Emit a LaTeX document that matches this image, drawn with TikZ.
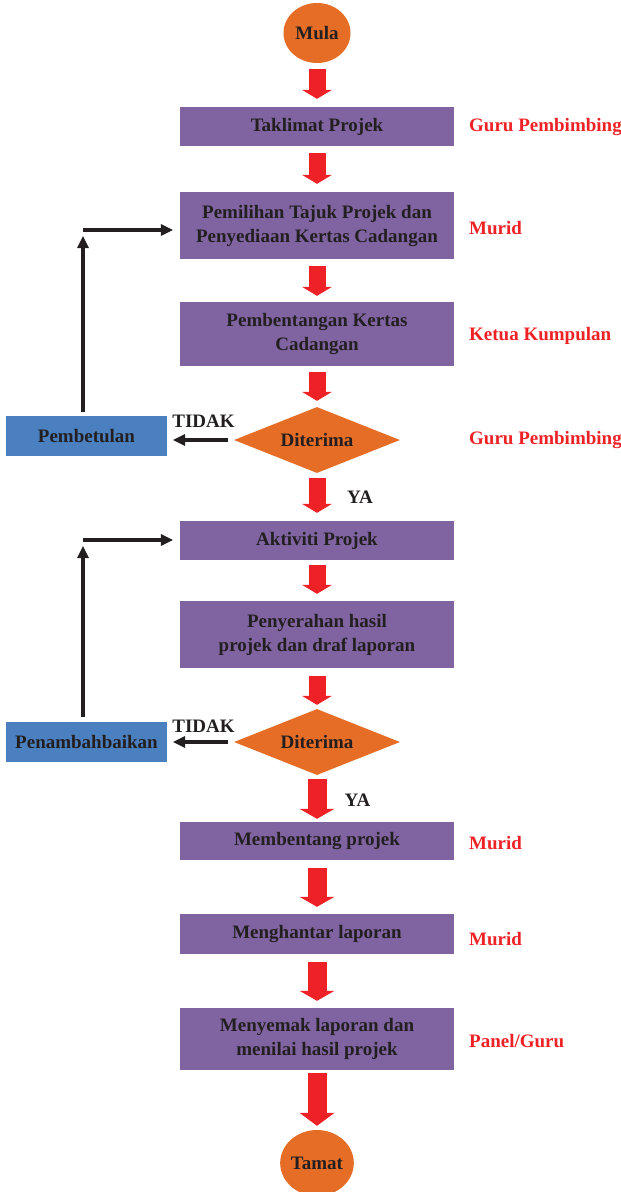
\documentclass[tikz,border=0pt]{standalone}
\usepackage{fontspec}
\setmainfont{Liberation Serif}
\usetikzlibrary{shapes.geometric,arrows.meta}
\definecolor{boxpurple}{HTML}{8064A2}
\definecolor{boxblue}{HTML}{4A80BF}
\definecolor{shapeorange}{HTML}{E56D26}
\definecolor{arrred}{HTML}{EE2226}
\definecolor{ink}{HTML}{231F20}
\begin{document}
\begin{tikzpicture}[x=1pt,y=-1pt,
  every node/.style={font=\fontsize{19}{24}\selectfont\bfseries, text=ink},
  procbox/.style={rectangle, fill=boxpurple, minimum width=274pt, inner sep=0pt, align=center},
  sidebox/.style={rectangle, fill=boxblue, minimum width=161pt, minimum height=40pt, inner sep=0pt},
  term/.style={ellipse, fill=shapeorange, inner sep=0pt},
  decide/.style={diamond, fill=shapeorange, aspect=2.5, inner sep=0pt, minimum width=166pt, minimum height=66pt},
  role/.style={anchor=west, text=arrred, inner sep=0pt},
  lbl/.style={inner sep=0pt},
  redarr/.style={draw=arrred, line width=17pt, -{Triangle[length=9pt,width=30pt,line width=0pt]}},
  bigredarr/.style={draw=arrred, line width=19pt, -{Triangle[length=10pt,width=35pt,line width=0pt]}},
  blkarr/.style={draw=ink, line width=3.5pt, -{Triangle[length=12pt,width=12pt,line width=0pt]}}
]
\useasboundingbox (0,0) rectangle (621,1192);

% main column
\node[term, minimum width=67pt, minimum height=60pt] (mula) at (317,33) {Mula};
\node[procbox, minimum height=39pt] (tak) at (317,126.5) {Taklimat Projek};
\node[procbox, minimum height=67pt] (pem) at (317,225.5) {Pemilihan Tajuk Projek dan\\Penyediaan Kertas Cadangan};
\node[procbox, minimum height=64pt] (pbt) at (317,334) {Pembentangan Kertas\\Cadangan};
\node[decide] (d1) at (317,440) {Diterima};
\node[procbox, minimum height=39pt] (akt) at (317,540.5) {Aktiviti Projek};
\node[procbox, minimum height=67pt] (pny) at (317,634.5) {Penyerahan hasil\\projek dan draf laporan};
\node[decide] (d2) at (317,742) {Diterima};
\node[procbox, minimum height=38pt] (mbt) at (317,841) {Membentang projek};
\node[procbox, minimum height=40pt] (mgh) at (317,934) {Menghantar laporan};
\node[procbox, minimum height=62pt] (mny) at (317,1039) {Menyemak laporan dan\\menilai hasil projek};
\node[term, minimum width=72pt, minimum height=66pt] (tamat) at (317,1163) {Tamat};

% side boxes
\node[sidebox] (betul) at (86.5,436) {Pembetulan};
\node[sidebox] (tambah) at (86.5,742) {Penambahbaikan};

% roles
\node[role] (r1) at (469,127) {Guru Pembimbing};
\node[role] (r2) at (469,228) {Murid};
\node[role] (r3) at (469,336) {Ketua Kumpulan};
\node[role] (r4) at (469,440) {Guru Pembimbing};
\node[role] (r5) at (469,843) {Murid};
\node[role] (r6) at (469,939) {Murid};
\node[role] (r7) at (469,1041) {Panel/Guru};

% labels
\node[lbl] (t1) at (203.5,421) {TIDAK};
\node[lbl] (t2) at (203.5,726) {TIDAK};
\node[lbl] (y1) at (360,497) {YA};
\node[lbl] (y2) at (357.5,800) {YA};

% red arrows
\draw[redarr, shorten <=6pt, shorten >=8pt] (mula.south) -- (tak.north);
\draw[redarr, shorten <=7pt, shorten >=8pt] (tak.south) -- (pem.north);
\draw[redarr, shorten <=7pt, shorten >=6pt] (pem.south) -- (pbt.north);
\draw[redarr, shorten <=6pt, shorten >=6pt] (pbt.south) -- (d1.north);
\draw[redarr, shorten <=5pt, shorten >=8pt] (d1.south) -- (akt.north);
\draw[redarr, shorten <=5pt, shorten >=7pt] (akt.south) -- (pny.north);
\draw[redarr, shorten <=8pt, shorten >=4pt] (pny.south) -- (d2.north);
\draw[bigredarr, shorten <=4pt, shorten >=3pt] (d2.south) -- (mbt.north);
\draw[bigredarr, shorten <=8pt, shorten >=7pt] (mbt.south) -- (mgh.north);
\draw[bigredarr, shorten <=8pt, shorten >=7pt] (mgh.south) -- (mny.north);
\draw[bigredarr, -{Triangle[length=13pt,width=35pt,line width=0pt]}, shorten <=3pt, shorten >=4pt] (mny.south) -- (tamat.north);

% TIDAK arrows
\draw[blkarr, shorten <=6pt, shorten >=6pt] (d1.west) -- (d1.west -| betul.east);
\draw[blkarr, shorten <=6pt, shorten >=6pt] (d2.west) -- (d2.west -| tambah.east);

% return loops
\coordinate (c1) at (83,230);
\coordinate (c1tip) at (83,236);
\coordinate (c2) at (83,540);
\coordinate (c2tip) at (83,546);
\draw[blkarr, shorten <=4pt] (betul.north -| c1) -- (c1tip);
\draw[blkarr, shorten >=7pt] (c1) -- (c1 -| pem.west);
\draw[blkarr, shorten <=5pt] (tambah.north -| c2) -- (c2tip);
\draw[blkarr, shorten >=7pt] (c2) -- (c2 -| akt.west);
\end{tikzpicture}
\end{document}
